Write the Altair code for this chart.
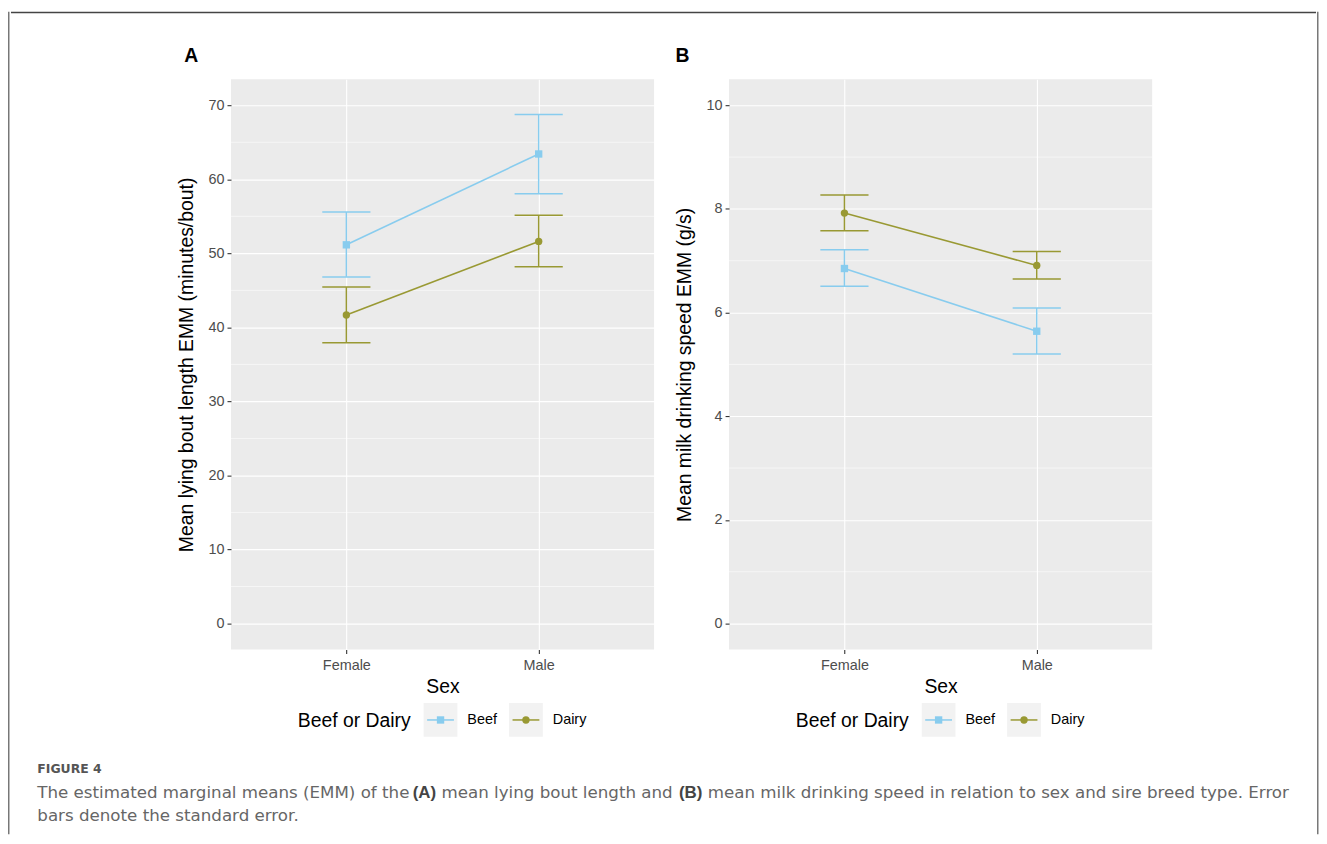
import altair as alt
import pandas as pd

FONT = "Liberation Sans"
CAP_FONT = "DejaVu Sans"

sex = ["Female", "Male"]
breeds = ["Beef", "Dairy"]
breed_colors = ["#88CCEE", "#999933"]
breed_shapes = ["square", "circle"]

# Panel A: mean lying bout length EMM (minutes/bout)
a_beef_emm = [51.15, 63.42]
a_beef_lo = [46.82, 58.05]
a_beef_hi = [55.58, 68.74]
a_dairy_emm = [41.68, 51.61]
a_dairy_lo = [37.92, 48.20]
a_dairy_hi = [45.44, 55.14]
a_major = [0, 10, 20, 30, 40, 50, 60, 70]
a_minor = [5, 15, 25, 35, 45, 55, 65]
a_domain = [-3.5, 73.5]
a_ytitle = "Mean lying bout length EMM (minutes/bout)"

# Panel B: mean milk drinking speed EMM (g/s)
b_beef_emm = [6.85, 5.64]
b_beef_lo = [6.51, 5.20]
b_beef_hi = [7.21, 6.09]
b_dairy_emm = [7.92, 6.91]
b_dairy_lo = [7.58, 6.65]
b_dairy_hi = [8.27, 7.18]
b_major = [0, 2, 4, 6, 8, 10]
b_minor = [1, 3, 5, 7, 9]
b_domain = [-0.5, 10.5]
b_ytitle = "Mean milk drinking speed EMM (g/s)"

x_title = "Sex"
legend_title = "Beef or Dairy"

caption_label = "FIGURE 4"
caption_line1 = ["The estimated marginal means (EMM) of the", "(A)",
                 "mean lying bout length and", "(B)",
                 "mean milk drinking speed in relation to sex and sire breed type. Error"]
caption_line2 = "bars denote the standard error."

PW, PH = 426, 574


def make_df(beef_emm, beef_lo, beef_hi, dairy_emm, dairy_lo, dairy_hi):
    rows = []
    for i, s in enumerate(sex):
        rows.append({"sex": s, "breed": "Beef", "emm": beef_emm[i], "lo": beef_lo[i], "hi": beef_hi[i]})
    for i, s in enumerate(sex):
        rows.append({"sex": s, "breed": "Dairy", "emm": dairy_emm[i], "lo": dairy_lo[i], "hi": dairy_hi[i]})
    return pd.DataFrame(rows)


color = alt.Color("breed:N", scale=alt.Scale(domain=breeds, range=breed_colors), legend=None)
shape = alt.Shape("breed:N", scale=alt.Scale(domain=breeds, range=breed_shapes), legend=None)


def make_panel(df, major, minor, domain, ytitle, letter, ydx):
    xenc = alt.X(
        "sex:N",
        scale=alt.Scale(type="point", domain=sex, padding=0.6),
        axis=alt.Axis(title=x_title, labelAngle=0, grid=True, gridColor="white", gridWidth=1.1,
                      domain=False, ticks=True, tickColor="#333333", tickSize=4, tickWidth=1.1,
                      labelFontSize=14.5, labelColor="#4D4D4D", labelFont=FONT, labelPadding=5,
                      titleFontSize=19.5, titleColor="black", titleFont=FONT,
                      titleFontWeight="normal", titlePadding=6),
    )
    yscale = alt.Scale(domain=domain, nice=False, zero=False)
    yaxis = alt.Axis(values=major, title=ytitle, grid=True, gridColor="white", gridWidth=1.1,
                     domain=False, tickColor="#333333", tickSize=4, tickWidth=1.1,
                     labelFontSize=14.5, labelColor="#4D4D4D", labelFont=FONT, labelPadding=3,
                     titleFontSize=19.5, titleFontWeight="normal", titleColor="black",
                     titleFont=FONT, titlePadding=12, format="d")

    minor_rules = alt.Chart(pd.DataFrame({"v": minor})).mark_rule(
        color="white", strokeWidth=0.55
    ).encode(y=alt.Y("v:Q", scale=yscale, axis=yaxis))

    bars = alt.Chart(df).mark_rule(strokeWidth=1.5).encode(
        x=xenc, y=alt.Y("lo:Q", scale=yscale, axis=yaxis), y2="hi:Q", color=color)
    cap_lo = alt.Chart(df).mark_tick(size=48.5, thickness=1.5, opacity=1).encode(
        x=xenc, y=alt.Y("lo:Q", scale=yscale, axis=yaxis), color=color)
    cap_hi = alt.Chart(df).mark_tick(size=48.5, thickness=1.5, opacity=1).encode(
        x=xenc, y=alt.Y("hi:Q", scale=yscale, axis=yaxis), color=color)
    lines = alt.Chart(df).mark_line(strokeWidth=1.6).encode(
        x=xenc, y=alt.Y("emm:Q", scale=yscale, axis=yaxis), color=color)
    pts = alt.Chart(df).mark_point(filled=True, size=55, opacity=1).encode(
        x=xenc, y=alt.Y("emm:Q", scale=yscale, axis=yaxis), color=color, shape=shape)

    plot = alt.layer(minor_rules, bars, cap_lo, cap_hi, lines, pts).properties(
        width=PW, height=PH,
        title=alt.TitleParams(letter, anchor="start", frame="group", fontSize=19.5,
                              fontWeight="bold", font=FONT, color="black",
                              baseline="alphabetic", offset=14.5, dx=ydx, dy=17),
        view=alt.ViewBackground(fill="#EBEBEB", strokeWidth=0),
    )

    # hand-built legend drawn from the breed list
    ldf = pd.DataFrame({"breed": breeds})
    lx = alt.X("breed:N", scale=alt.Scale(type="point", domain=breeds, range=[211, 297], padding=0),
               axis=None)
    boxes = alt.Chart(ldf).mark_square(size=34 * 34, color="#F2F2F2", opacity=1).encode(
        x=lx, y=alt.value(17))
    segs = alt.Chart(ldf).mark_point(shape="M-1,0H1", size=27 * 27, strokeWidth=1.5,
                                     filled=False, opacity=1).encode(
        x=lx, y=alt.value(17), color=color)
    marks = alt.Chart(ldf).mark_point(filled=True, size=55, opacity=1).encode(
        x=lx, y=alt.value(17), color=color, shape=shape)
    labels = alt.Chart(ldf).mark_text(align="left", baseline="middle", dx=27, fontSize=14.5,
                                      font=FONT, color="black").encode(
        x=lx, y=alt.value(17), text="breed:N")
    ltitle = alt.Chart(pd.DataFrame({"t": [legend_title]})).mark_text(
        align="right", baseline="middle", fontSize=19.5, font=FONT, color="black").encode(
        x=alt.value(181), y=alt.value(18), text="t:N")
    legend = alt.layer(boxes, segs, marks, labels, ltitle).properties(width=PW, height=34)

    return alt.vconcat(plot, legend, spacing=7)


dfa = make_df(a_beef_emm, a_beef_lo, a_beef_hi, a_dairy_emm, a_dairy_lo, a_dairy_hi)
dfb = make_df(b_beef_emm, b_beef_lo, b_beef_hi, b_dairy_emm, b_dairy_lo, b_dairy_hi)

panel_a = make_panel(dfa, a_major, a_minor, a_domain, a_ytitle, "A", -47)
panel_b = make_panel(dfb, b_major, b_minor, b_domain, b_ytitle, "B", -54)

spacer = alt.Chart(pd.DataFrame({"t": [""]})).mark_text().encode(
    text="t:N", x=alt.value(0), y=alt.value(0)).properties(width=146.5, height=10)

top = alt.hconcat(spacer, panel_a, panel_b, spacing=18.5)

# frame pieces and caption
MW = 1314          # width of the main column
TOTAL_H = 828      # total height of the figure
TOPLINE_H = 35
CAP_H = 97
one = pd.DataFrame({"i": [0]})

topline = alt.Chart(one).mark_rule(color="#444444", strokeWidth=1.5).encode(
    x=alt.value(0), x2=alt.value(MW), y=alt.value(0.75), y2=alt.value(0.75)
).properties(width=MW, height=TOPLINE_H)

left_frame = alt.Chart(one).mark_rule(color="#777777", strokeWidth=1.5).encode(
    x=alt.value(0.75), y=alt.value(0), y2=alt.value(TOTAL_H)
).properties(width=1.5, height=TOTAL_H)
right_frame = alt.Chart(one).mark_rule(color="#777777", strokeWidth=1.5).encode(
    x=alt.value(0.75), y=alt.value(0), y2=alt.value(TOTAL_H)
).properties(width=1.5, height=TOTAL_H)

fig_label = alt.Chart(pd.DataFrame({"t": [caption_label]})).mark_text(
    align="left", baseline="middle", font=CAP_FONT, fontSize=12.5, fontWeight="bold",
    color="#555555").encode(x=alt.value(26.5), y=alt.value(32), text="t:N")

seg_x = [26.5, 404.5, 433.5, 672.5, 701.5]
seg_bold = [False, True, False, True, False]
cap_layers = []
for txt, sx, bold in zip(caption_line1, seg_x, seg_bold):
    cap_layers.append(
        alt.Chart(pd.DataFrame({"t": [txt]})).mark_text(
            align="left", baseline="middle",
            font=FONT if bold else CAP_FONT,
            fontSize=17.0 if bold else 16.8,
            fontWeight="bold" if bold else "normal",
            color="#444444" if bold else "#666666").encode(
            x=alt.value(sx), y=alt.value(57), text="t:N"))
line2 = alt.Chart(pd.DataFrame({"t": [caption_line2]})).mark_text(
    align="left", baseline="middle", font=CAP_FONT, fontSize=16.8, color="#666666").encode(
    x=alt.value(26.5), y=alt.value(80), text="t:N")

caption = alt.layer(fig_label, *cap_layers, line2).properties(width=MW, height=CAP_H)

main = alt.vconcat(topline, top, caption, spacing=0)

chart = alt.hconcat(left_frame, main, right_frame, spacing=0).properties(
    padding=0).configure(font=FONT).configure_view(strokeWidth=0, stroke=None)

chart.save("out.html", embed_options={"renderer": "svg", "actions": False})
